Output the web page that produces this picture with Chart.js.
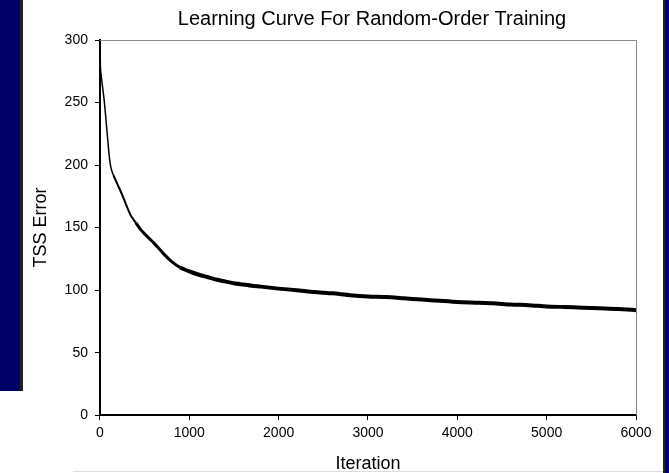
<!DOCTYPE html>
<html>
<head>
<meta charset="utf-8">
<script src="https://cdn.jsdelivr.net/npm/chart.js@4"></script>
<style>
  html, body { margin: 0; padding: 0; background: #fff; }
  #wrap { position: relative; width: 669px; height: 473px; overflow: hidden; background: #fff; }
  .navy { position: absolute; background: #000066; }
  .edge { position: absolute; background: #222; }
  canvas { position: absolute; left: 0; top: 0; }
</style>
</head>
<body>
<div id="wrap">
  <div class="navy" style="left:0;top:0;width:20px;height:391px"></div>
  <div class="edge" style="left:20px;top:0;width:3px;height:391px"></div>
  <div class="edge" style="left:663px;top:0;width:2px;height:473px"></div>
  <div class="navy" style="left:665px;top:0;width:4px;height:473px"></div>
  <div style="position:absolute;left:73px;top:471px;width:590px;height:1px;background:#ddd"></div>
  <canvas id="myChart" width="669" height="473"></canvas>
</div>
<script>
// learning curve
const iterations = [0, 5, 10, 30, 50, 75, 100, 115, 130, 150, 200, 250, 300, 350, 400, 450, 500,
  600, 700, 800, 900, 1000, 1100, 1200, 1300, 1400, 1500, 1600, 1700, 1800, 1900, 2000,
  2200, 2400, 2600, 2800, 3000, 3200, 3400, 3600, 3800, 4000, 4200, 4400, 4600, 4800,
  5000, 5200, 5400, 5600, 5800, 6000];
const tssError = [300, 280, 274, 262, 250, 230, 210, 201, 196, 192, 184, 176, 167, 159, 154, 149, 145,
  138, 130, 123, 118, 115, 112.5, 110.5, 108.5, 107, 105.5, 104.5, 103.5, 102.8, 102, 101.2,
  100, 98.5, 97.5, 96, 95, 94.5, 93.5, 92.5, 91.5, 90.5, 90, 89.5, 88.5, 88,
  87, 86.5, 86, 85.5, 85, 84];
const xTicks = [0, 1000, 2000, 3000, 4000, 5000, 6000];
const yTicks = [0, 50, 100, 150, 200, 250, 300];
const chartTitle = 'Learning Curve For Random-Order Training';

const points = iterations.map(function(x, i) { return { x: x, y: tssError[i] }; });

const font = "'Liberation Sans', Arial, sans-serif";
const plain = function(v) { return String(v); };

// grey top/right frame of the plot area, title centred over the plot
const frame = {
  id: 'frame',
  afterDraw: function(chart) {
    const a = chart.chartArea, ctx = chart.ctx;
    ctx.save();
    ctx.strokeStyle = '#888';
    ctx.lineWidth = 1;
    ctx.beginPath();
    ctx.moveTo(a.left, a.top + 0.5);
    ctx.lineTo(a.right + 0.5, a.top + 0.5);
    ctx.lineTo(a.right + 0.5, a.bottom);
    ctx.stroke();
    ctx.fillStyle = '#000';
    ctx.font = '20px ' + font;
    ctx.textAlign = 'center';
    ctx.textBaseline = 'middle';
    ctx.fillText(chartTitle, (a.left + a.right) / 2 + 4, 19);
    ctx.restore();
  }
};

new Chart(document.getElementById('myChart').getContext('2d'), {
  type: 'line',
  data: {
    datasets: [{
      data: points,
      borderColor: '#000',
      borderWidth: 1.5,
      pointRadius: 0,
      tension: 0.2,
      segment: {
        borderWidth: function(c) {
          const x = c.p0.parsed.x;
          return x < 150 ? 1.5 : (x < 400 ? 2 : (x < 900 ? 3 : 4));
        }
      }
    }]
  },
  options: {
    responsive: false,
    animation: false,
    layout: { padding: { left: 30, right: 33, top: 40, bottom: 0 } },
    plugins: {
      legend: { display: false },
      tooltip: { enabled: false },
      title: { display: false }
    },
    scales: {
      x: {
        type: 'linear',
        min: 0,
        max: 6000,
        afterBuildTicks: function(axis) { axis.ticks = xTicks.map(function(v) { return { value: v }; }); },
        border: { color: '#000', width: 2 },
        grid: { drawOnChartArea: false, tickLength: 5, color: '#000', tickColor: '#000' },
        ticks: { color: '#000', font: { family: font, size: 14 }, padding: 5, maxRotation: 0, callback: plain },
        title: { display: true, text: 'Iteration', color: '#000', font: { family: font, size: 18, lineHeight: 1 }, padding: { top: 8, bottom: 0 } }
      },
      y: {
        min: 0,
        max: 300,
        afterBuildTicks: function(axis) { axis.ticks = yTicks.map(function(v) { return { value: v }; }); },
        border: { color: '#000', width: 2 },
        grid: { drawOnChartArea: false, tickLength: 5, color: '#000', tickColor: '#000' },
        ticks: { color: '#000', font: { family: font, size: 14 }, padding: 7, callback: plain },
        title: { display: true, text: 'TSS Error', color: '#000', font: { family: font, size: 18 }, padding: { top: 0, bottom: 6 } }
      }
    }
  },
  plugins: [frame]
});
</script>
</body>
</html>
